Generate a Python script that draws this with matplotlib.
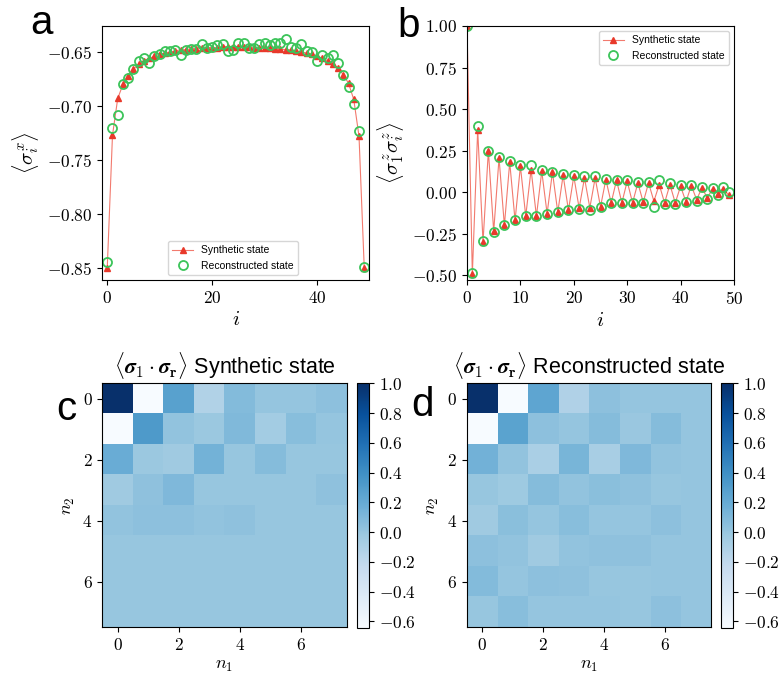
import numpy as np
import matplotlib
matplotlib.use("Agg")
import matplotlib.pyplot as plt

plt.rcParams['font.family'] = 'serif'
plt.rcParams['font.serif'] = ['cmr10']
plt.rcParams['mathtext.fontset'] = 'cm'
plt.rcParams['axes.formatter.use_mathtext'] = True

# panel a: <sigma^x_i>
sx_synth = [-0.850, -0.727, -0.693, -0.680, -0.672, -0.666, -0.661, -0.658, -0.656, -0.654,
            -0.652, -0.651, -0.650, -0.649, -0.648, -0.648, -0.647, -0.647, -0.646, -0.646,
            -0.646, -0.646, -0.645, -0.645, -0.645, -0.645, -0.645, -0.645, -0.646, -0.646,
            -0.646, -0.646, -0.647, -0.647, -0.648, -0.648, -0.649, -0.650, -0.651, -0.652,
            -0.654, -0.656, -0.658, -0.661, -0.665, -0.671, -0.679, -0.694, -0.728, -0.850]
sx_recon = [-0.844, -0.720, -0.708, -0.680, -0.674, -0.666, -0.658, -0.656, -0.660, -0.654,
            -0.652, -0.649, -0.649, -0.648, -0.653, -0.648, -0.647, -0.647, -0.643, -0.646,
            -0.645, -0.644, -0.643, -0.649, -0.648, -0.642, -0.642, -0.646, -0.646, -0.643,
            -0.642, -0.644, -0.642, -0.642, -0.638, -0.645, -0.646, -0.643, -0.649, -0.650,
            -0.658, -0.653, -0.656, -0.653, -0.660, -0.671, -0.682, -0.698, -0.723, -0.849]

# panel b: <sigma^z_1 sigma^z_i>
zz_synth = [1.00, -0.494, 0.376, -0.300, 0.250, -0.236, 0.206, -0.200, 0.180, -0.170,
            0.156, -0.144, 0.136, -0.144, 0.126, -0.128, 0.120, -0.120, 0.102, -0.108,
            0.096, -0.096, 0.086, -0.094, 0.086, -0.088, 0.076, -0.064, 0.072, -0.064,
            0.066, -0.064, 0.056, -0.060, 0.056, -0.054, 0.046, -0.064, 0.046, -0.064,
            0.036, -0.058, 0.040, -0.044, 0.026, -0.034, 0.022, -0.008, 0.022, -0.018]
zz_recon = [1.00, -0.484, 0.396, -0.294, 0.250, -0.240, 0.210, -0.200, 0.190, -0.170,
            0.166, -0.144, 0.162, -0.144, 0.136, -0.128, 0.122, -0.120, 0.112, -0.108,
            0.106, -0.098, 0.096, -0.104, 0.100, -0.088, 0.080, -0.064, 0.072, -0.064,
            0.072, -0.064, 0.060, -0.064, 0.060, -0.088, 0.076, -0.068, 0.056, -0.070,
            0.042, -0.060, 0.042, -0.050, 0.030, -0.038, 0.026, -0.014, 0.030, 0.002]

# panels c, d: <sigma_1 . sigma_r>, rows = n2, cols = n1
corr_synth = [
    [1.00, -0.645, 0.27, -0.13, 0.08, 0.01, 0.01, 0.04],
    [-0.645, 0.32, 0.02, -0.02, 0.09, -0.06, 0.06, 0.01],
    [0.19, -0.02, -0.04, 0.14, 0.00, 0.07, 0.00, 0.00],
    [-0.04, 0.03, 0.10, 0.00, 0.00, 0.00, 0.00, 0.03],
    [0.02, 0.04, 0.04, 0.02, 0.03, 0.00, 0.00, 0.00],
    [0.00, 0.00, 0.00, 0.00, 0.00, 0.00, 0.00, 0.00],
    [0.00, 0.00, 0.00, 0.00, 0.00, 0.00, 0.00, 0.00],
    [0.00, 0.00, 0.00, 0.00, 0.00, 0.00, 0.00, 0.00],
]
corr_recon = [
    [1.00, -0.645, 0.24, -0.12, 0.04, 0.01, 0.01, 0.01],
    [-0.645, 0.26, 0.04, 0.01, 0.07, -0.01, 0.07, 0.01],
    [0.15, 0.02, -0.09, 0.12, -0.08, 0.10, 0.02, 0.01],
    [0.00, -0.03, 0.07, 0.02, 0.05, 0.03, 0.00, 0.01],
    [-0.04, 0.05, 0.01, 0.06, 0.01, 0.01, 0.04, 0.01],
    [0.04, 0.02, -0.04, 0.02, 0.03, 0.03, 0.01, 0.01],
    [0.08, 0.01, 0.04, 0.03, 0.00, 0.00, 0.01, 0.01],
    [0.00, 0.06, 0.01, 0.01, 0.01, 0.00, 0.04, 0.01],
]

W, H = 781, 678
fig = plt.figure(figsize=(W / 100, H / 100), dpi=100)


def box(x0, y0, x1, y1):
    # pixel box (top-left origin) -> figure fraction rect
    return [x0 / W, 1 - y1 / H, (x1 - x0) / W, (y1 - y0) / H]


red = '#e8392b'
green = '#3cc45a'
sans = ['Liberation Sans', 'DejaVu Sans']
tick_fs = 12.5


def profile(ax, i, synth, recon):
    ax.plot(i, synth, '-^', color=red, lw=0.8, ms=4, mec=red, mfc=red,
            label='Synthetic state')
    ax.lines[-1].set_color('#f27a6e')
    ax.lines[-1].set_markerfacecolor(red)
    ax.lines[-1].set_markeredgecolor(red)
    ax.plot(i, recon, 'o', mfc='none', mec=green, mew=1.3, ms=6.5,
            label='Reconstructed state')
    ax.tick_params(labelsize=tick_fs)


# ---- a ----
ax_a = fig.add_axes(box(102, 26, 369.5, 280))
profile(ax_a, np.arange(len(sx_synth)), sx_synth, sx_recon)
ax_a.set_xlim(-1, 50)
ax_a.set_ylim(-0.861, -0.626)
ax_a.set_yticks([-0.85, -0.80, -0.75, -0.70, -0.65])
ax_a.set_xticks([0, 20, 40])
ax_a.set_xlabel(r'$i$', fontsize=15)
ax_a.set_ylabel(r'$\langle\sigma^x_i\rangle$', fontsize=15)
ax_a.legend(loc='lower center', prop={'family': sans, 'size': 7.5},
            bbox_to_anchor=(0.49, 0.0))

# ---- b ----
ax_b = fig.add_axes(box(467, 26, 734, 280))
profile(ax_b, np.arange(len(zz_synth)), zz_synth, zz_recon)
ax_b.set_xlim(0, 50)
ax_b.set_ylim(-0.528, 1.0)
ax_b.set_yticks([-0.5, -0.25, 0, 0.25, 0.5, 0.75, 1.0])
ax_b.set_xlabel(r'$i$', fontsize=15)
ax_b.set_ylabel(r'$\langle\sigma^z_1\sigma^z_i\rangle$', fontsize=15)
ax_b.legend(loc='upper right', prop={'family': sans, 'size': 7.5})

# ---- c, d ----
panels = [(corr_synth, 'Synthetic state', 102.3, 356.7),
          (corr_recon, 'Reconstructed state', 466.7, 720.7)]
for data, name, x0, cx0 in panels:
    ax = fig.add_axes(box(x0, 383.3, x0 + 244.4, 627.3))
    im = ax.imshow(np.array(data), cmap='Blues', vmin=-0.645, vmax=1.0,
                   aspect='auto', interpolation='nearest')
    ax.set_xticks([0, 2, 4, 6])
    ax.set_yticks([0, 2, 4, 6])
    ax.tick_params(labelsize=tick_fs)
    ax.set_xlabel(r'$n_1$', fontsize=13)
    ax.set_ylabel(r'$n_2$', fontsize=13)
    ax.set_title(r'$\langle\boldsymbol{\sigma}_1\cdot\boldsymbol{\sigma}_{\mathbf{r}}\rangle$ ' + name,
                 fontsize=15.5, family=sans, pad=7)
    cax = fig.add_axes(box(cx0, 383.3, cx0 + 12.6, 628))
    cb = fig.colorbar(im, cax=cax)
    cb.set_ticks([-0.6, -0.4, -0.2, 0.0, 0.2, 0.4, 0.6, 0.8, 1.0])
    cb.ax.tick_params(labelsize=tick_fs)

# panel letters
for letter, x, y in [('a', 30, 34), ('b', 397, 37), ('c', 56, 420), ('d', 411, 416)]:
    fig.text(x / W, 1 - y / H, letter, fontsize=29, family=sans)

fig.savefig('out.png', dpi=100)
